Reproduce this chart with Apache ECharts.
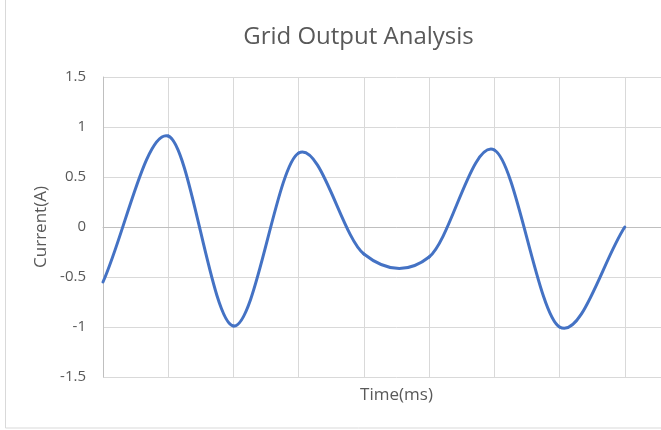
<!DOCTYPE html>
<html>
<head>
<meta charset="utf-8">
<script src="https://cdn.jsdelivr.net/npm/echarts@6/dist/echarts.min.js"></script>
<style>
html,body{margin:0;padding:0;background:#fff;overflow:hidden;width:661px;height:430px;}
#chart{width:717px;height:430px;}
</style>
</head>
<body>
<div id="chart"></div>
<script>
const chartTitle = 'Grid Output Analysis';
const xAxisName = 'Time(ms)';
const yAxisName = 'Current(A)';
// Sample positions (one per vertical gridline) and current values
const timeMs = [0, 1, 2, 3, 4, 5, 6, 7, 8];
const currentA = [-0.55, 0.91, -0.99, 0.74, -0.27, -0.30, 0.77, -1.0, 0];
const yTicks = [-1.5, -1, -0.5, 0, 0.5, 1, 1.5];

const textColor = '#595959';
const fontFam = '"Open Sans", "Noto Sans", sans-serif';
const lineColor = '#4472c4';

// Spreadsheet-style smoothed line: cubic Bezier segments between consecutive
// data points, control points derived from neighbouring points (positions via api.coord).
function renderSmoothSegment(params, api) {
  const i = params.dataIndex;
  const n = timeMs.length;
  if (i >= n - 1) return null;
  const pt = k => api.coord([timeMs[k], currentA[k]]);
  const p1 = pt(i), p2 = pt(i + 1);
  let p0, p3;
  if (i - 1 >= 0) p0 = pt(i - 1); else p0 = [2 * p1[0] - p2[0], 2 * p1[1] - p2[1]];
  if (i + 2 <= n - 1) p3 = pt(i + 2); else p3 = [2 * p2[0] - p1[0], 2 * p2[1] - p1[1]];
  const k = 1 / 6;
  return {
    type: 'bezierCurve',
    shape: {
      x1: p1[0], y1: p1[1], x2: p2[0], y2: p2[1],
      cpx1: p1[0] + (p2[0] - p0[0]) * k, cpy1: p1[1] + (p2[1] - p0[1]) * k,
      cpx2: p2[0] - (p3[0] - p1[0]) * k, cpy2: p2[1] - (p3[1] - p1[1]) * k
    },
    style: {fill: 'none', stroke: lineColor, lineWidth: 3, lineCap: 'round', lineJoin: 'round'},
    silent: true
  };
}

const chart = echarts.init(document.getElementById('chart'), null, {renderer: 'canvas'});
chart.setOption({
  animation: false,
  backgroundColor: '#ffffff',
  graphic: [{
    type: 'rect',
    shape: {x: 5.5, y: -10, width: 706, height: 438},
    style: {fill: 'none', stroke: '#d9d9d9', lineWidth: 1},
    silent: true,
    z: -10
  }],
  title: {
    text: chartTitle,
    left: 'center',
    top: 20,
    textStyle: {color: textColor, fontFamily: fontFam, fontSize: 24, fontWeight: 'normal'}
  },
  grid: {left: 103, right: 27, top: 77, bottom: 53, containLabel: false},
  xAxis: {
    type: 'value',
    min: 0, max: 9, interval: 1,
    name: xAxisName,
    nameLocation: 'middle',
    nameGap: 10,
    nameTextStyle: {color: textColor, fontFamily: fontFam, fontSize: 17},
    axisLine: {show: true, lineStyle: {color: '#bfbfbf', width: 1}},
    axisTick: {show: false},
    axisLabel: {show: false},
    splitLine: {show: true, lineStyle: {color: '#d9d9d9', width: 1}}
  },
  yAxis: {
    type: 'value',
    min: yTicks[0], max: yTicks[yTicks.length - 1], interval: 0.5,
    name: yAxisName,
    nameLocation: 'middle',
    nameRotate: 90,
    nameGap: 45,
    nameTextStyle: {color: textColor, fontFamily: fontFam, fontSize: 17},
    axisLine: {show: true, lineStyle: {color: '#bfbfbf', width: 1}},
    axisTick: {show: false},
    axisLabel: {color: textColor, fontFamily: fontFam, fontSize: 15, margin: 17},
    splitLine: {show: true, lineStyle: {color: '#d9d9d9', width: 1}}
  },
  series: [{
    type: 'custom',
    name: yAxisName,
    data: timeMs.map((t, i) => [t, currentA[i]]),
    encode: {x: 0, y: 1},
    renderItem: renderSmoothSegment,
    z: 5
  }]
});
</script>
</body>
</html>
